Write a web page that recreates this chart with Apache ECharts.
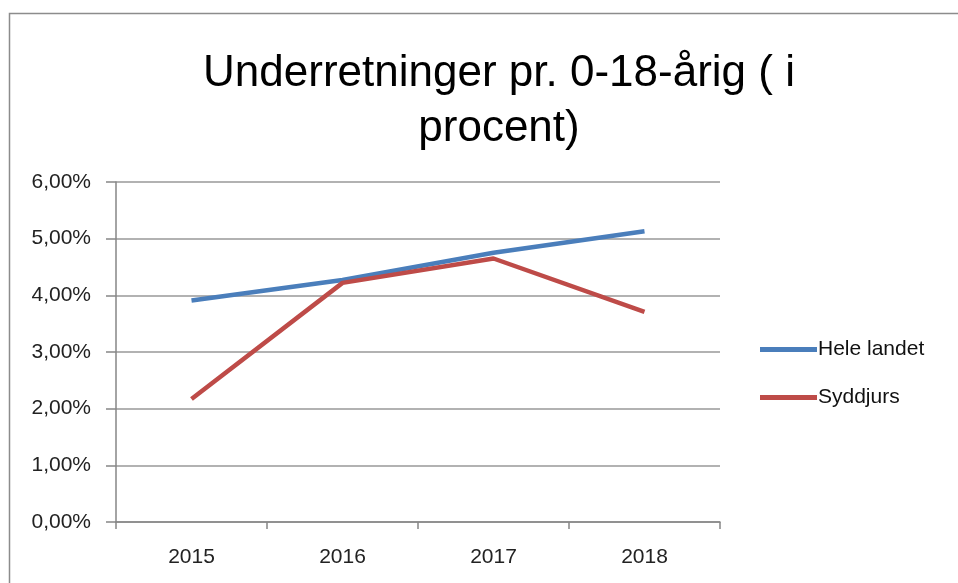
<!DOCTYPE html>
<html>
<head>
<meta charset="utf-8">
<script src="https://cdn.jsdelivr.net/npm/echarts@6/dist/echarts.min.js"></script>
<style>html,body{margin:0;padding:0;background:#fff}#c{width:958px;height:583px}</style>
</head>
<body>
<div id="c"></div>
<script>
const titleText = 'Underretninger pr. 0-18-årig ( i\nprocent)';
const categories = ['2015', '2016', '2017', '2018'];
const heleLandet = [3.91, 4.27, 4.75, 5.13];
const syddjurs = [2.17, 4.22, 4.65, 3.71];
const seriesNames = ['Hele landet', 'Syddjurs'];

const chart = echarts.init(document.getElementById('c'));
const fmt = v => v.toFixed(2).replace('.', ',') + '%';
chart.setOption({
  animation: false,
  backgroundColor: '#fff',
  graphic: [{
    type: 'rect', left: 7, top: 11, z: -1,
    shape: { width: 1000, height: 1000 },
    style: { fill: 'none', stroke: '#8c8c8c', lineWidth: 1.5 }
  }],
  title: {
    text: titleText,
    left: 494, top: 41, textAlign: 'center',
    textStyle: { fontFamily: 'Liberation Sans', fontSize: 44, fontWeight: 'normal', color: '#000', lineHeight: 55 }
  },
  legend: {
    orient: 'vertical', left: 755, top: 334, itemGap: 27,
    itemWidth: 57, itemHeight: 5, icon: 'rect',
    textStyle: { fontFamily: 'Liberation Sans', fontSize: 21, color: '#111', padding: [0,0,0,-4] },
    data: seriesNames
  },
  grid: { left: 116, right: 238, top: 182, bottom: 61, containLabel: false },
  xAxis: {
    type: 'category', data: categories, boundaryGap: true,
    axisLine: { lineStyle: { color: '#868686', width: 1.5 } },
    axisTick: { show: true, length: 7, lineStyle: { color: '#868686', width: 1.5 } },
    axisLabel: { fontFamily: 'Liberation Sans', fontSize: 21, color: '#222', margin: 25 }
  },
  yAxis: {
    type: 'value', min: 0, max: 6, interval: 1,
    axisLine: { show: true, lineStyle: { color: '#868686', width: 1.5 } },
    axisTick: { show: true, length: 10, lineStyle: { color: '#868686', width: 1.5 } },
    splitLine: { lineStyle: { color: '#999', width: 1.5 } },
    axisLabel: { formatter: fmt, fontFamily: 'Liberation Sans', fontSize: 21, color: '#222', margin: 25 }
  },
  series: [
    { name: seriesNames[0], type: 'line', data: heleLandet, symbol: 'none', lineStyle: { color: '#4a7ebb', width: 4.5 }, itemStyle: { color: '#4a7ebb' } },
    { name: seriesNames[1], type: 'line', data: syddjurs, symbol: 'none', lineStyle: { color: '#be4b48', width: 4.5 }, itemStyle: { color: '#be4b48' } }
  ]
});
</script>
</body>
</html>
